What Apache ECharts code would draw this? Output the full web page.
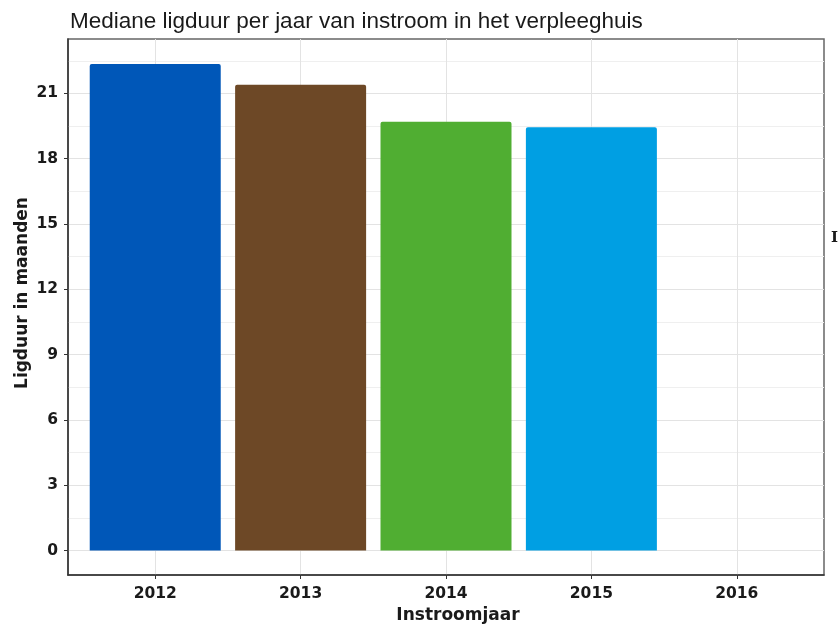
<!DOCTYPE html>
<html>
<head>
<meta charset="utf-8">
<script src="https://cdn.jsdelivr.net/npm/echarts@6/dist/echarts.min.js"></script>
<style>html,body{margin:0;padding:0;background:#fff}#c{width:838px;height:624px}</style>
</head>
<body>
<div id="c"></div>
<script>
const years = [2012, 2013, 2014, 2015];
const medianMonths = [22.35, 21.4, 19.7, 19.45];
const barColors = ['#0057b8', '#6d4826', '#50ae32', '#009fe3'];
const xTickLabels = [2012, 2013, 2014, 2015, 2016];
const yTickLabels = [0, 3, 6, 9, 12, 15, 18, 21];
const yMinorLines = [0, 1.5, 3, 4.5, 6, 7.5, 9, 10.5, 12, 13.5, 15, 16.5, 18, 19.5, 21, 22.5];

const chart = echarts.init(document.getElementById('c'), null, {renderer: 'canvas'});
const tickFont = {fontFamily: 'DejaVu Sans', fontWeight: 'bold', fontSize: 15.5, color: '#1a1a1a'};
const nameFont = {fontFamily: 'DejaVu Sans', fontWeight: 'bold', fontSize: 17, color: '#1a1a1a'};
const yMin = -1.12, yMax = 23.5;
chart.setOption({
  animation: false,
  backgroundColor: '#fff',
  title: {
    text: 'Mediane ligduur per jaar van instroom in het verpleeghuis',
    left: 65, top: 5,
    textStyle: {fontFamily: 'Liberation Sans', fontWeight: 'normal', fontSize: 22.5, color: '#1a1a1a'}
  },
  grid: {left: 68, right: 14, top: 39, bottom: 49, show: true, borderColor: '#666', borderWidth: 1.5,
         containLabel: false, outerBoundsMode: 'none'},
  xAxis: {
    type: 'value', min: 2011.4, max: 2016.6,
    name: 'Instroomjaar', nameLocation: 'middle', nameGap: 31,
    nameTextStyle: Object.assign({padding: [0, 0, 0, 24]}, nameFont),
    axisLine: {show: true, onZero: false, lineStyle: {color: '#333', width: 1.5}},
    axisTick: {show: true, length: 4, customValues: xTickLabels, lineStyle: {color: '#333'}},
    axisLabel: Object.assign({customValues: xTickLabels, margin: 11, formatter: v => String(v)}, tickFont),
    splitLine: {show: true, lineStyle: {color: '#e3e3e3', width: 1}}
  },
  yAxis: [{
    type: 'value', min: yMin, max: yMax,
    name: 'Ligduur in maanden', nameLocation: 'middle', nameGap: 37, nameMoveOverlap: false,
    nameTextStyle: Object.assign({padding: [0, 0, 0, 28]}, nameFont),
    axisLine: {show: true, onZero: false, lineStyle: {color: '#333', width: 1.5}},
    axisTick: {show: false, customValues: yMinorLines},
    axisLabel: Object.assign({customValues: yTickLabels, margin: 10}, tickFont),
    splitLine: {show: true, lineStyle: {color: '#efefef', width: 1}}
  }, {
    type: 'value', min: yMin, max: yMax, position: 'left',
    axisLine: {show: false},
    axisTick: {show: true, length: 4, customValues: yTickLabels, lineStyle: {color: '#333'}},
    axisLabel: {show: false},
    splitLine: {show: true, lineStyle: {color: '#e3e3e3', width: 1}}
  }],
  series: [{
    type: 'bar',
    yAxisIndex: 0,
    barWidth: 131,
    data: years.map((y, i) => ({value: [y, medianMonths[i]], itemStyle: {color: barColors[i], borderRadius: [2, 2, 0, 0]}}))
  }],
  graphic: [{
    type: 'text', left: 831, top: 231,
    style: {text: 'Instroomjaar', font: 'bold 15px DejaVu Serif', fill: '#1a1a1a'}
  }]
});
</script>
</body>
</html>
